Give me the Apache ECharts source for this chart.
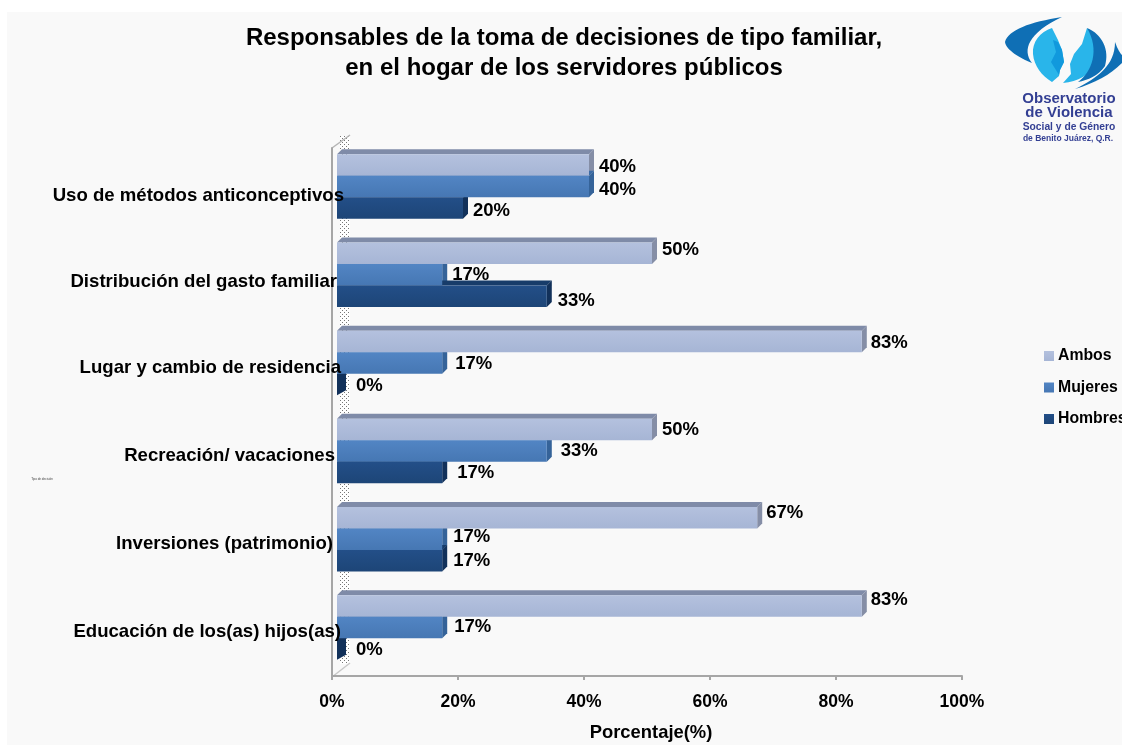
<!DOCTYPE html>
<html><head><meta charset="utf-8">
<style>html,body{margin:0;padding:0;background:#fff}#c{width:1122px;height:747px}</style>
<script src="https://cdn.jsdelivr.net/npm/echarts@6/dist/echarts.min.js"></script>
</head><body><div id="c"></div>
<script>
const categories = ['Uso de métodos anticonceptivos','Distribución del gasto familiar','Lugar y cambio de residencia','Recreación/ vacaciones','Inversiones (patrimonio)','Educación de los(as) hijos(as)'];
const ambos = [40,50,83.3,50,66.7,83.3];
const mujeres = [40,16.7,16.7,33.3,16.7,16.7];
const hombres = [20,33.3,0,16.7,16.7,0];
const xTicks = [0,20,40,60,80,100];

const labelOffsets = {
  Ambos:[[10,2],[10,-3],[9,1],[10,0],[9,-5],[9,-6]],
  Mujeres:[[10,3],[10,0],[13,1],[14,0],[11,-2],[12,-1]],
  Hombres:[[10,3],[11,5],[19,1],[15,0],[11,0],[19,1]]
};
const catPad = [[8,0],[4,7],[0,3],[0,9],[0,11],[0,3]];
const FONT = '"Liberation Sans", Arial, sans-serif';
const DEPTH = 5, BARW = 21.5;

const look = {
  Ambos:{top:'#b4c1de',bot:'#a6b5d5',cap:'#7f8ba8',side:'#858ea6'},
  Mujeres:{top:'#5285c4',bot:'#4677b3',cap:'#3b6ba6',side:'#356399'},
  Hombres:{top:'#234f88',bot:'#1d4577',cap:'#173c6a',side:'#12315a'}
};
const grad = k => ({type:'linear',x:0,y:0,x2:0,y2:1,colorStops:[{offset:0,color:look[k].top},{offset:1,color:look[k].bot}]});

function barSeries(name, vals){
  return {name, type:'bar', xAxisIndex:0, yAxisIndex:0, barWidth:BARW, barGap:'0%', z:3,
    itemStyle:{color:grad(name)},
    data: vals.map((v,i)=>({value:v,label:{offset:labelOffsets[name][i]}})),
    label:{show:true, position:'right', distance:0, color:'#000', fontFamily:FONT, fontWeight:'bold', fontSize:18.5,
      formatter:p=>Math.round(p.value)+'%'}};
}
function depthSeries(name, vals, idx){
  return {name:name+' 3D', type:'custom', xAxisIndex:0, yAxisIndex:0, z:2, silent:true,
    data: vals.map((v,i)=>[v,i]), encode:{x:0,y:1},
    renderItem:(params,api)=>{
      const p = api.coord([api.value(0),api.value(1)]);
      const p0 = api.coord([0,api.value(1)]);
      const y0 = p[1]+(idx-1)*BARW-BARW/2, y1 = y0+BARW, x=p[0], xs=p0[0];
      const d = DEPTH, w = api.value(0)===0 ? 9 : DEPTH;
      return {type:'group',children:[
        {type:'polygon',shape:{points:[[xs,y0],[xs+d,y0-d],[x+d,y0-d],[x,y0]]},style:{fill:look[name].cap}},
        {type:'polygon',shape:{points:[[x,y0],[x+w,y0-d],[x+w,y1-d],[x,y1]]},style:{fill:look[name].side}}
      ]};
    }};
}
function stipple(){
  const c=document.createElement('canvas');c.width=4;c.height=4;
  const g=c.getContext('2d');g.fillStyle='#fff';g.fillRect(0,0,4,4);g.fillStyle='#777';
  g.fillRect(0,0,1,1);g.fillRect(2,2,1,1);return c;
}
const navy='#333f93';
const logoPaths=[
 ['M1062,17 C1030,22 1008,30 1005,42 C1006,50 1020,58 1032,63 C1022,50 1028,33 1062,17 Z','#0f6fb5'],
 ['M1115,42 C1118,50 1120,53 1122,55 L1122,63 C1110,75 1095,83 1075,89 C1098,78 1115,65 1115,42 Z','#0f6fb5'],
 ['M1052,28 C1040,32 1032,42 1033,54 C1034,66 1042,76 1052,82 L1059,76 L1060,70 L1064,62 L1062,50 L1058,40 Z','#29b5ea'],
 ['M1053,40 L1058,42 L1062,50 L1064,62 L1060,70 L1059,75 L1051,62 L1056,52 Z','#1199dd'],
 ['M1087,28 C1096,38 1100,50 1096,64 C1090,74 1078,82 1063,83 L1071,74 L1070,64 L1074,54 L1082,44 Z','#29b5ea'],
 ['M1087,28 C1102,34 1110,50 1105,66 C1098,76 1088,80 1078,82 C1092,72 1100,50 1087,28 Z','#0f6fb5']
];
const logoText=[
 {type:'text',style:{text:'Observatorio',x:1069,y:99,align:'center',verticalAlign:'middle',font:'bold 15px '+FONT,fill:navy}},
 {type:'text',style:{text:'de Violencia',x:1069,y:113,align:'center',verticalAlign:'middle',font:'bold 15px '+FONT,fill:navy}},
 {type:'text',style:{text:'Social y de Género',x:1069,y:127,align:'center',verticalAlign:'middle',font:'bold 10.3px '+FONT,fill:navy}},
 {type:'text',style:{text:'de Benito Juárez, Q.R.',x:1068,y:139,align:'center',verticalAlign:'middle',font:'bold 8.5px '+FONT,fill:navy}}
];
const rich={};catPad.forEach((p,i)=>{rich['c'+i]={padding:[p[0],p[1],0,0],fontFamily:FONT,fontWeight:'bold',fontSize:18.6,color:'#000'}});

const chart=echarts.init(document.getElementById('c'),null,{renderer:'canvas'});
chart.setOption({
  animation:false, backgroundColor:'#ffffff',
  title:{text:'Responsables de la toma de decisiones de tipo familiar,\nen el hogar de los servidores públicos',left:559,top:18,textAlign:'center',
    textStyle:{fontFamily:FONT,fontWeight:'bold',fontSize:24,lineHeight:30,color:'#000'}},
  legend:{data:['Ambos','Mujeres','Hombres'],orient:'vertical',left:1039,top:343,itemWidth:10,itemHeight:10,itemGap:15.5,icon:'rect',selectedMode:false,
    textStyle:{fontFamily:FONT,fontWeight:'bold',fontSize:15.8,color:'#000',padding:[0,0,0,-1]}},
  grid:[{left:337,width:630,top:142.5,height:529},{left:332,width:630,top:148,height:529}],
  xAxis:[
    {gridIndex:0,type:'value',min:0,max:100,show:false},
    {gridIndex:1,type:'value',min:0,max:100,interval:20,position:'bottom',
     splitLine:{show:false},axisLine:{show:true,lineStyle:{color:'#a6a6a6',width:2}},axisTick:{show:true,length:4,lineStyle:{color:'#a6a6a6',width:2}},
     axisLabel:{margin:17,color:'#000',fontFamily:FONT,fontWeight:'bold',fontSize:17.5,formatter:v=>xTicks.includes(v)?v+'%':''},
     name:'Porcentaje(%)',nameLocation:'middle',nameGap:48,nameTextStyle:{color:'#000',fontFamily:FONT,fontWeight:'bold',fontSize:18.4,padding:[0,0,0,8]}}
  ],
  yAxis:[
    {gridIndex:0,type:'category',data:categories,inverse:true,show:false},
    {gridIndex:1,type:'category',data:categories,inverse:true,z:10,
     axisLine:{show:true,lineStyle:{color:'#a6a6a6',width:2}},axisTick:{show:false},
     axisLabel:{margin:-12,interval:0,rich,formatter:(v)=>`{c${categories.indexOf(v)}|${v}}`}}
  ],
  graphic:[
    {type:'rect',z:-10,shape:{x:7,y:12,width:1115,height:733},style:{fill:'#f9f9f9'}},
    {type:'rect',z:-5,shape:{x:340,y:136,width:10,height:528},style:{fill:{image:stipple(),repeat:'repeat'}}},
    {type:'polyline',z:-4,shape:{points:[[332,148],[350,135]]},style:{stroke:'#b5b5b5',lineWidth:1.5,fill:null}},
    {type:'polyline',z:-4,shape:{points:[[332,677],[350,663]]},style:{stroke:'#c8c8c8',lineWidth:1.5,fill:null}},
    {type:'text',z:5,style:{text:'Tipo de decisión',x:42,y:479,align:'center',verticalAlign:'middle',font:'3px '+FONT,fill:'#444'}},
    ...logoText
  ],
  series:[
    barSeries('Ambos',ambos),barSeries('Mujeres',mujeres),barSeries('Hombres',hombres),
    depthSeries('Ambos',ambos,0),depthSeries('Mujeres',mujeres,1),depthSeries('Hombres',hombres,2),
    {name:'logo',type:'custom',coordinateSystem:'none',silent:true,z:5,data:[0],
     renderItem:()=>({type:'group',children:logoPaths.map(p=>({type:'path',shape:{pathData:p[0]},style:{fill:p[1]}}))})}
  ]
});
</script></body></html>
